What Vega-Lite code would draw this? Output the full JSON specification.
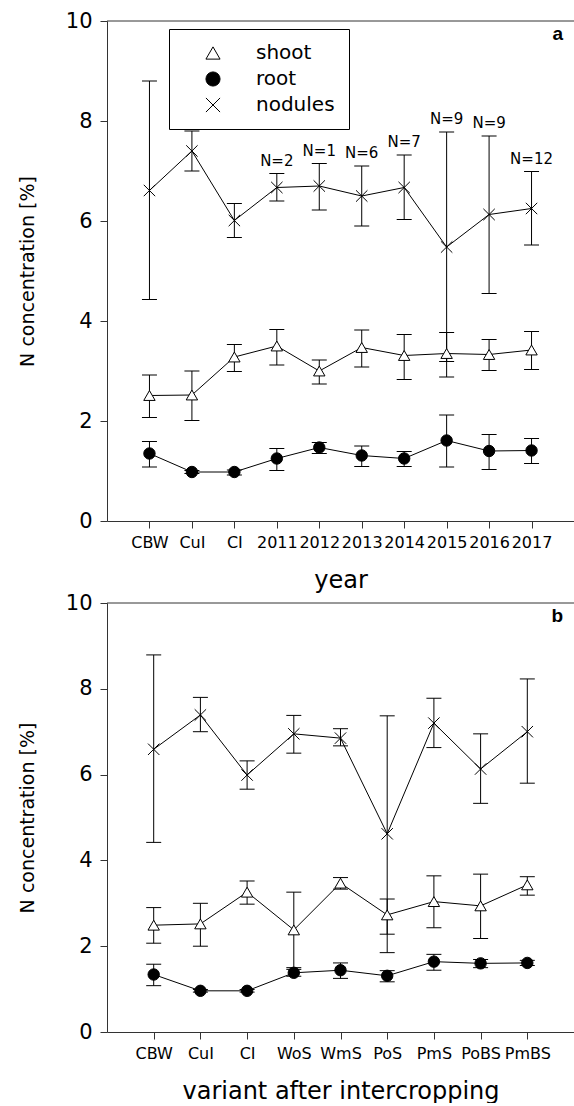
{
  "$schema": "https://vega.github.io/schema/vega-lite/v6.json",
  "padding": {"left": 18, "top": 10, "right": 0, "bottom": 0},
  "bounds": "flush",
  "spacing": 82,
  "resolve": {"scale": {"x": "independent", "y": "independent", "shape": "independent", "fill": "independent"}},
  "config": {
    "font": "DejaVu Sans",
    "view": {"stroke": null},
    "axis": {"domainColor": "#333", "tickColor": "#333", "tickSize": 7, "grid": false, "labelColor": "black", "titleColor": "black", "titleFontWeight": "normal", "domainWidth": 1, "tickWidth": 1},
    "axisX": {"labelFontSize": 16, "labelPadding": 6, "titleFontSize": 24, "titlePadding": 18, "labelAngle": 0, "labelOverlap": false},
    "axisY": {"labelFontSize": 21, "labelPadding": 8, "titleFontSize": 19, "titlePadding": 28}
  },
  "datasets": {
    "a": [
      {"cat": "CBW", "organ": "shoot", "mean": 2.51, "lo": 2.07, "hi": 2.92},
      {"cat": "CuI", "organ": "shoot", "mean": 2.52, "lo": 2.01, "hi": 3.0},
      {"cat": "CI", "organ": "shoot", "mean": 3.28, "lo": 2.99, "hi": 3.53},
      {"cat": "2011", "organ": "shoot", "mean": 3.5, "lo": 3.12, "hi": 3.83},
      {"cat": "2012", "organ": "shoot", "mean": 3.0, "lo": 2.74, "hi": 3.22},
      {"cat": "2013", "organ": "shoot", "mean": 3.47, "lo": 3.08, "hi": 3.82},
      {"cat": "2014", "organ": "shoot", "mean": 3.31, "lo": 2.83, "hi": 3.73},
      {"cat": "2015", "organ": "shoot", "mean": 3.35, "lo": 2.88, "hi": 3.77},
      {"cat": "2016", "organ": "shoot", "mean": 3.33, "lo": 3.01, "hi": 3.63},
      {"cat": "2017", "organ": "shoot", "mean": 3.42, "lo": 3.03, "hi": 3.79},
      {"cat": "CBW", "organ": "root", "mean": 1.35, "lo": 1.08, "hi": 1.59},
      {"cat": "CuI", "organ": "root", "mean": 0.98, "lo": 0.95, "hi": 1.01},
      {"cat": "CI", "organ": "root", "mean": 0.98, "lo": 0.92, "hi": 1.02},
      {"cat": "2011", "organ": "root", "mean": 1.25, "lo": 1.01, "hi": 1.45},
      {"cat": "2012", "organ": "root", "mean": 1.47, "lo": 1.35, "hi": 1.57},
      {"cat": "2013", "organ": "root", "mean": 1.31, "lo": 1.09, "hi": 1.5},
      {"cat": "2014", "organ": "root", "mean": 1.25, "lo": 1.09, "hi": 1.39},
      {"cat": "2015", "organ": "root", "mean": 1.61, "lo": 1.08, "hi": 2.12},
      {"cat": "2016", "organ": "root", "mean": 1.4, "lo": 1.03, "hi": 1.73},
      {"cat": "2017", "organ": "root", "mean": 1.41, "lo": 1.15, "hi": 1.65},
      {"cat": "CBW", "organ": "nodules", "mean": 6.61, "lo": 4.43, "hi": 8.8},
      {"cat": "CuI", "organ": "nodules", "mean": 7.4, "lo": 7.0, "hi": 7.8},
      {"cat": "CI", "organ": "nodules", "mean": 6.01, "lo": 5.67, "hi": 6.35},
      {"cat": "2011", "organ": "nodules", "mean": 6.67, "lo": 6.4, "hi": 6.95, "n": "N=2"},
      {"cat": "2012", "organ": "nodules", "mean": 6.7, "lo": 6.22, "hi": 7.15, "n": "N=1"},
      {"cat": "2013", "organ": "nodules", "mean": 6.5, "lo": 5.9, "hi": 7.1, "n": "N=6"},
      {"cat": "2014", "organ": "nodules", "mean": 6.67, "lo": 6.03, "hi": 7.32, "n": "N=7"},
      {"cat": "2015", "organ": "nodules", "mean": 5.48, "lo": 3.19, "hi": 7.78, "n": "N=9"},
      {"cat": "2016", "organ": "nodules", "mean": 6.13, "lo": 4.55, "hi": 7.7, "n": "N=9"},
      {"cat": "2017", "organ": "nodules", "mean": 6.25, "lo": 5.52, "hi": 6.99, "n": "N=12"}
    ],
    "b": [
      {"cat": "CBW", "organ": "shoot", "mean": 2.49, "lo": 2.07, "hi": 2.9},
      {"cat": "CuI", "organ": "shoot", "mean": 2.52, "lo": 2.0, "hi": 3.0},
      {"cat": "CI", "organ": "shoot", "mean": 3.26, "lo": 2.98, "hi": 3.52},
      {"cat": "WoS", "organ": "shoot", "mean": 2.38, "lo": 1.5, "hi": 3.26},
      {"cat": "WmS", "organ": "shoot", "mean": 3.47, "lo": 3.33, "hi": 3.6},
      {"cat": "PoS", "organ": "shoot", "mean": 2.73, "lo": 2.28, "hi": 3.1},
      {"cat": "PmS", "organ": "shoot", "mean": 3.04, "lo": 2.43, "hi": 3.64},
      {"cat": "PoBS", "organ": "shoot", "mean": 2.94, "lo": 2.18, "hi": 3.68},
      {"cat": "PmBS", "organ": "shoot", "mean": 3.43, "lo": 3.19, "hi": 3.62},
      {"cat": "CBW", "organ": "root", "mean": 1.34, "lo": 1.08, "hi": 1.58},
      {"cat": "CuI", "organ": "root", "mean": 0.96, "lo": 0.93, "hi": 0.99},
      {"cat": "CI", "organ": "root", "mean": 0.96, "lo": 0.93, "hi": 0.99},
      {"cat": "WoS", "organ": "root", "mean": 1.38, "lo": 1.3, "hi": 1.46},
      {"cat": "WmS", "organ": "root", "mean": 1.44, "lo": 1.25, "hi": 1.61},
      {"cat": "PoS", "organ": "root", "mean": 1.31, "lo": 1.17, "hi": 1.43},
      {"cat": "PmS", "organ": "root", "mean": 1.64, "lo": 1.44, "hi": 1.81},
      {"cat": "PoBS", "organ": "root", "mean": 1.6, "lo": 1.5, "hi": 1.69},
      {"cat": "PmBS", "organ": "root", "mean": 1.61, "lo": 1.55, "hi": 1.67},
      {"cat": "CBW", "organ": "nodules", "mean": 6.59, "lo": 4.42, "hi": 8.79},
      {"cat": "CuI", "organ": "nodules", "mean": 7.39, "lo": 7.0, "hi": 7.8},
      {"cat": "CI", "organ": "nodules", "mean": 5.99, "lo": 5.66, "hi": 6.32},
      {"cat": "WoS", "organ": "nodules", "mean": 6.95, "lo": 6.5, "hi": 7.38},
      {"cat": "WmS", "organ": "nodules", "mean": 6.85, "lo": 6.67, "hi": 7.07},
      {"cat": "PoS", "organ": "nodules", "mean": 4.62, "lo": 1.85, "hi": 7.37},
      {"cat": "PmS", "organ": "nodules", "mean": 7.2, "lo": 6.63, "hi": 7.78},
      {"cat": "PoBS", "organ": "nodules", "mean": 6.13, "lo": 5.33, "hi": 6.95},
      {"cat": "PmBS", "organ": "nodules", "mean": 7.0, "lo": 5.8, "hi": 8.23}
    ]
  },
  "vconcat": [
    {
      "width": 467,
      "height": 500,
      "title": {"text": "a", "anchor": "end", "frame": "group", "orient": "top", "offset": -34, "dx": -11, "fontSize": 19, "fontWeight": "bold", "font": "Liberation Sans", "color": "black"},
      "data": {"name": "a"},
      "layer": [
        {
          "data": {"values": [{}]},
          "mark": {"type": "rule", "color": "#333", "strokeWidth": 1},
          "encoding": {"y": {"datum": 10, "type": "quantitative", "scale": {"domain": [0, 10], "nice": false}, "axis": {"values": [0, 2, 4, 6, 8, 10]}, "title": "N concentration [%]"}}
        },
        {
          "mark": {"type": "rule", "color": "black", "strokeWidth": 1},
          "encoding": {
            "x": {"field": "cat", "type": "nominal", "sort": ["CBW","CuI","CI","2011","2012","2013","2014","2015","2016","2017"], "scale": {"type": "point", "domain": ["CBW","CuI","CI","2011","2012","2013","2014","2015","2016","2017"], "padding": 1}, "title": "year"},
            "y": {"field": "lo", "type": "quantitative", "scale": {"domain": [0, 10], "nice": false}, "axis": {"values": [0, 2, 4, 6, 8, 10]}, "title": "N concentration [%]"},
            "y2": {"field": "hi"}
          }
        },
        {
          "mark": {"type": "tick", "color": "black", "size": 15, "thickness": 1, "opacity": 1},
          "encoding": {
            "x": {"field": "cat", "type": "nominal", "sort": ["CBW","CuI","CI","2011","2012","2013","2014","2015","2016","2017"], "title": "year"},
            "y": {"field": "lo", "type": "quantitative", "axis": {"values": [0, 2, 4, 6, 8, 10]}, "title": "N concentration [%]"}
          }
        },
        {
          "mark": {"type": "tick", "color": "black", "size": 15, "thickness": 1, "opacity": 1},
          "encoding": {
            "x": {"field": "cat", "type": "nominal", "sort": ["CBW","CuI","CI","2011","2012","2013","2014","2015","2016","2017"], "title": "year"},
            "y": {"field": "hi", "type": "quantitative", "axis": {"values": [0, 2, 4, 6, 8, 10]}, "title": "N concentration [%]"}
          }
        },
        {
          "mark": {"type": "line", "color": "black", "strokeWidth": 1},
          "encoding": {
            "x": {"field": "cat", "type": "nominal", "sort": ["CBW","CuI","CI","2011","2012","2013","2014","2015","2016","2017"], "title": "year"},
            "y": {"field": "mean", "type": "quantitative", "axis": {"values": [0, 2, 4, 6, 8, 10]}, "title": "N concentration [%]"},
            "detail": {"field": "organ", "type": "nominal"}
          }
        },
        {
          "mark": {"type": "point", "stroke": "black", "strokeWidth": 1, "opacity": 1, "size": 130},
          "encoding": {
            "x": {"field": "cat", "type": "nominal", "sort": ["CBW","CuI","CI","2011","2012","2013","2014","2015","2016","2017"], "title": "year"},
            "y": {"field": "mean", "type": "quantitative", "axis": {"values": [0, 2, 4, 6, 8, 10]}, "title": "N concentration [%]"},
            "shape": {"field": "organ", "type": "nominal", "scale": {"domain": ["shoot", "root", "nodules"], "range": ["triangle-up", "circle", "M-1,-1L1,1M-1,1L1,-1"]},
              "legend": {"title": null, "orient": "none", "legendX": 62, "legendY": 8, "symbolSize": 200, "symbolOffset": 20, "labelOffset": 33, "labelFontSize": 20, "labelColor": "black", "padding": 14, "rowPadding": 6, "strokeColor": "black", "fillColor": "white", "symbolStrokeColor": "black", "symbolStrokeWidth": 1, "symbolOpacity": 1,
                "encode": {"symbols": {"update": {"stroke": {"value": "black"}, "strokeWidth": {"value": 1}, "opacity": {"value": 1}}}}}},
            "fill": {"field": "organ", "type": "nominal", "scale": {"domain": ["shoot", "root", "nodules"], "range": ["white", "black", "white"]},
              "legend": {"title": null, "orient": "none", "legendX": 62, "legendY": 8, "symbolSize": 200, "symbolOffset": 20, "labelOffset": 33, "labelFontSize": 20, "labelColor": "black", "padding": 14, "rowPadding": 6, "strokeColor": "black", "fillColor": "white", "symbolStrokeColor": "black", "symbolStrokeWidth": 1, "symbolOpacity": 1,
                "encode": {"symbols": {"update": {"stroke": {"value": "black"}, "strokeWidth": {"value": 1}, "opacity": {"value": 1}}}}}}
          }
        },
        {
          "transform": [{"filter": "datum.n != null"}],
          "mark": {"type": "text", "color": "black", "fontSize": 15, "baseline": "bottom", "dy": -5},
          "encoding": {
            "x": {"field": "cat", "type": "nominal", "sort": ["CBW","CuI","CI","2011","2012","2013","2014","2015","2016","2017"], "title": "year"},
            "y": {"field": "hi", "type": "quantitative", "axis": {"values": [0, 2, 4, 6, 8, 10]}, "title": "N concentration [%]"},
            "text": {"field": "n", "type": "nominal"}
          }
        }
      ]
    },
    {
      "width": 467,
      "height": 429,
      "title": {"text": "b", "anchor": "end", "frame": "group", "orient": "top", "offset": -34, "dx": -11, "fontSize": 19, "fontWeight": "bold", "font": "Liberation Sans", "color": "black"},
      "data": {"name": "b"},
      "layer": [
        {
          "data": {"values": [{}]},
          "mark": {"type": "rule", "color": "#333", "strokeWidth": 1},
          "encoding": {"y": {"datum": 10, "type": "quantitative", "scale": {"domain": [0, 10], "nice": false}, "axis": {"values": [0, 2, 4, 6, 8, 10]}, "title": "N concentration [%]"}}
        },
        {
          "mark": {"type": "rule", "color": "black", "strokeWidth": 1},
          "encoding": {
            "x": {"field": "cat", "type": "nominal", "sort": ["CBW","CuI","CI","WoS","WmS","PoS","PmS","PoBS","PmBS"], "scale": {"type": "point", "domain": ["CBW","CuI","CI","WoS","WmS","PoS","PmS","PoBS","PmBS"], "padding": 1}, "title": "variant after intercropping"},
            "y": {"field": "lo", "type": "quantitative", "scale": {"domain": [0, 10], "nice": false}, "axis": {"values": [0, 2, 4, 6, 8, 10]}, "title": "N concentration [%]"},
            "y2": {"field": "hi"}
          }
        },
        {
          "mark": {"type": "tick", "color": "black", "size": 15, "thickness": 1, "opacity": 1},
          "encoding": {
            "x": {"field": "cat", "type": "nominal", "sort": ["CBW","CuI","CI","WoS","WmS","PoS","PmS","PoBS","PmBS"], "title": "variant after intercropping"},
            "y": {"field": "lo", "type": "quantitative", "axis": {"values": [0, 2, 4, 6, 8, 10]}, "title": "N concentration [%]"}
          }
        },
        {
          "mark": {"type": "tick", "color": "black", "size": 15, "thickness": 1, "opacity": 1},
          "encoding": {
            "x": {"field": "cat", "type": "nominal", "sort": ["CBW","CuI","CI","WoS","WmS","PoS","PmS","PoBS","PmBS"], "title": "variant after intercropping"},
            "y": {"field": "hi", "type": "quantitative", "axis": {"values": [0, 2, 4, 6, 8, 10]}, "title": "N concentration [%]"}
          }
        },
        {
          "mark": {"type": "line", "color": "black", "strokeWidth": 1},
          "encoding": {
            "x": {"field": "cat", "type": "nominal", "sort": ["CBW","CuI","CI","WoS","WmS","PoS","PmS","PoBS","PmBS"], "title": "variant after intercropping"},
            "y": {"field": "mean", "type": "quantitative", "axis": {"values": [0, 2, 4, 6, 8, 10]}, "title": "N concentration [%]"},
            "detail": {"field": "organ", "type": "nominal"}
          }
        },
        {
          "mark": {"type": "point", "stroke": "black", "strokeWidth": 1, "opacity": 1, "size": 130},
          "encoding": {
            "x": {"field": "cat", "type": "nominal", "sort": ["CBW","CuI","CI","WoS","WmS","PoS","PmS","PoBS","PmBS"], "title": "variant after intercropping"},
            "y": {"field": "mean", "type": "quantitative", "axis": {"values": [0, 2, 4, 6, 8, 10]}, "title": "N concentration [%]"},
            "shape": {"field": "organ", "type": "nominal", "scale": {"domain": ["shoot", "root", "nodules"], "range": ["triangle-up", "circle", "M-1,-1L1,1M-1,1L1,-1"]}, "legend": null},
            "fill": {"field": "organ", "type": "nominal", "scale": {"domain": ["shoot", "root", "nodules"], "range": ["white", "black", "white"]}, "legend": null}
          }
        }
      ]
    }
  ]
}
